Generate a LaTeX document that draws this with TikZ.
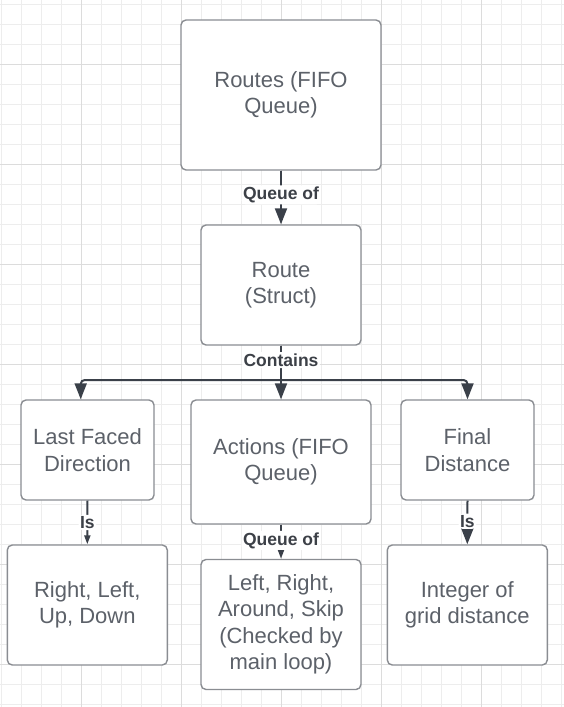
\documentclass[tikz,border=0pt]{standalone}
\usepackage{fontspec}
\setmainfont{Liberation Sans}
\usepackage{xcolor}
\usetikzlibrary{arrows.meta}
\usetikzlibrary{calc}
\usetikzlibrary{positioning}
\definecolor{gridminor}{HTML}{EDEDED}
\definecolor{gridmajor}{HTML}{DCDCDC}
\definecolor{boxline}{HTML}{8A8D92}
\definecolor{boxtext}{HTML}{5C6169}
\definecolor{wirecol}{HTML}{3A4049}
\definecolor{tagtext}{HTML}{3C4047}

\begin{document}
\begin{tikzpicture}[x=1pt, y=-1pt]
              \tikzset{box/.style={draw=boxline, line width=1.4pt, rounded corners=5pt, fill=white, text=boxtext, align=center, inner sep=0pt, font=\fontsize{22}{26.5}\selectfont},
                wire/.style={draw=wirecol, line width=2pt, rounded corners=4pt},
                bigtip/.style={-{Triangle[length=16pt, width=12pt]}},
                smalltip/.style={-{Triangle[length=9pt, width=6pt]}},
                tag/.style={fill=white, text=tagtext, inner sep=1.5pt, font=\fontsize{17.5}{20}\selectfont\bfseries}}

              \def\W{564}
              \def\H{707}

              \useasboundingbox (0,0) rectangle (\W,\H);
              \fill[white] (0,0) rectangle (\W,\H);
              \foreach \x in {1,21,...,561} \draw[gridminor, line width=1pt] (\x,0) -- (\x,\H);
              \foreach \y in {4,24,...,704} \draw[gridminor, line width=1pt] (0,\y) -- (\W,\y);
              \foreach \x in {81,181,...,481} \draw[gridmajor, line width=1pt] (\x,0) -- (\x,\H);
              \foreach \y in {64,164,...,664} \draw[gridmajor, line width=1pt] (0,\y) -- (\W,\y);

              \node[box, minimum width=200pt, minimum height=150pt] (routes) at (281,95) {Routes (FIFO\\Queue)};
              \node[box, minimum width=160pt, minimum height=120pt] (route) at (281,285) {Route\\(Struct)};
              \node[box, minimum width=133pt, minimum height=100pt] (lastdir) at (87.5,450) {Last Faced\\Direction};
              \node[box, minimum width=180pt, minimum height=124pt] (actions) at (281,462) {Actions (FIFO\\Queue)};
              \node[box, minimum width=133pt, minimum height=100pt] (finaldist) at (467.5,450) {Final\\Distance};
              \node[box, minimum width=160pt, minimum height=120pt] (dirvals) at (87.3,605) {Right, Left,\\Up, Down};
              \node[box, minimum width=160pt, minimum height=130pt] (actvals) at (281,624.5) {Left, Right,\\Around, Skip\\(Checked by\\main loop)};
              \node[box, minimum width=160pt, minimum height=120pt] (distvals) at (467.3,605) {Integer of\\grid distance};

              \coordinate (bus) at (281,380);

              \draw[wire, bigtip] (routes.south) -- node[tag, pos=0.45] {Queue of} (route.north);
              \draw[wire] (route.south) -- node[tag, pos=0.42] {Contains} (bus);
              \draw[wire, bigtip] (bus) -| ([xshift=-6.8pt]lastdir.north);
              \draw[wire, bigtip] (bus) -- (actions.north);
              \draw[wire, bigtip] (bus) -| (finaldist.north);

              \draw[wire, smalltip] (lastdir.south) -- node[tag] {Is} (dirvals.north);
              \draw[wire, smalltip] (actions.south) -- node[tag, pos=0.46] {Queue of} (actvals.north);
              \draw[wire, bigtip] (finaldist.south) -- node[tag, pos=0.47] {Is} (distvals.north);
            \end{tikzpicture}
\end{document}
